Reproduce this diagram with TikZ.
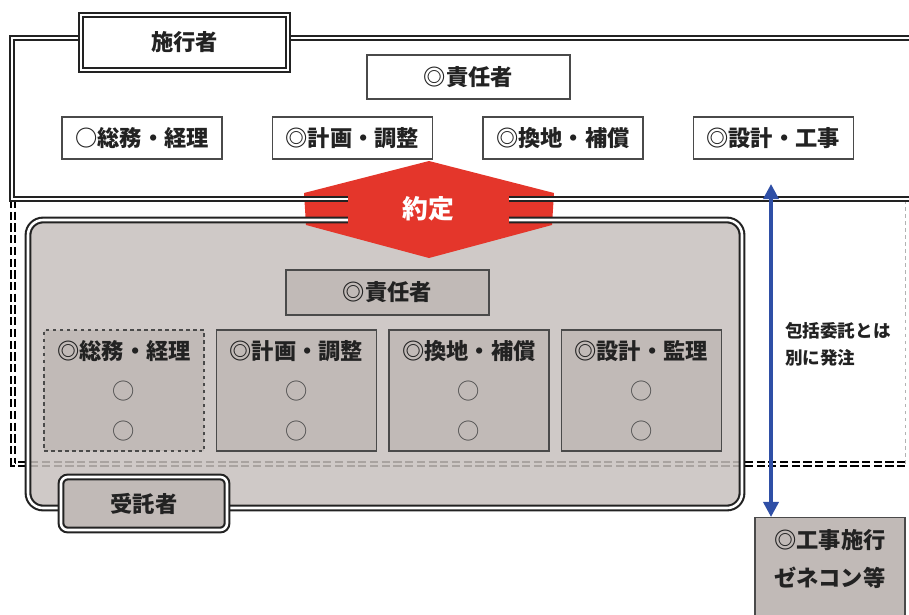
\documentclass[tikz,border=0pt]{standalone}
\usepackage{fontspec}
\setmainfont{Noto Sans CJK JP}
\usepackage{tikz}
\usetikzlibrary{arrows.meta, positioning}
\definecolor{frameline}{HTML}{222222}
\definecolor{boxline}{HTML}{4A4A4A}
\definecolor{grayfill}{HTML}{C7C0BD}
\definecolor{boxfill}{HTML}{C1BAB7}
\definecolor{yakured}{HTML}{E4362B}
\definecolor{arrowblue}{HTML}{2F4FA6}
\newcommand{\marucirc}{{\mdseries\color{boxline}○}}
\tikzstyle{dbl} = [draw=frameline, line width=1.8pt, double=white, double distance=2.2pt]
\tikzstyle{dbldash} = [draw=black, line width=1.7pt, double=white, double distance=1.7pt, dash pattern=on 7pt off 3pt]
\tikzstyle{tagbox} = [rectangle, dbl, fill=white, minimum width=6.21cm, minimum height=1.65cm, text=frameline, font=\fontsize{19}{22}\selectfont\bfseries]
\tikzstyle{whitebox} = [rectangle, draw=boxline, line width=1.2pt, fill=white, minimum width=4.8cm, minimum height=1.26cm, text=frameline, font=\fontsize{19}{22}\selectfont\bfseries]
\tikzstyle{graybox} = [rectangle, draw=boxline, line width=1.2pt, fill=boxfill, minimum width=4.8cm, minimum height=3.63cm, align=center, text=frameline, font=\fontsize{19}{34}\selectfont\bfseries]
\tikzstyle{bluearrow} = [arrowblue, line width=3pt, {Triangle[width=13pt,length=13pt]}-{Triangle[width=13pt,length=13pt]}]

\begin{document}
\begin{tikzpicture}[x=0.03cm, y=-0.03cm]

\clip (0,0) rectangle (909,614);
\draw[dbldash] (13,200) -- (13,464) -- (915,464);
\draw[gray!60, line width=0.6pt, dashed] (905,200) -- (905,464);
\fill[grayfill, fill opacity=0.85, rounded corners=0.45cm] (28,220) rectangle (742,508);
\fill[yakured] (429,161) -- (554,193) -- (552,225) -- (429,258) -- (306,225) -- (304,193) -- cycle;
\draw[dbl] (12,38) rectangle (920,199);
\draw[dbl, rounded corners=0.45cm] (28,220) rectangle (742,508);

\node (yakujo) [rectangle, fill=yakured, minimum width=4.83cm, minimum height=1.02cm, text=white, font=\fontsize{22}{24}\selectfont\bfseries] at (428,209) {約定};

\node (sekousha) [tagbox] at (184.5,42.5) {施行者};
\node (sekinin) [whitebox, minimum width=6.09cm, minimum height=1.32cm] at (468.5,77) {◎責任者};
\node (soumu) [whitebox] at (142,138) {○総務・経理};
\node (keikaku) [whitebox, right=1.47cm of soumu] {◎計画・調整};
\node (kanchi) [whitebox, right=1.47cm of keikaku] {◎換地・補償};
\node (sekkei) [whitebox, right=1.47cm of kanchi] {◎設計・工事};

\node (jsekinin) [graybox, minimum width=6.09cm, minimum height=1.35cm] at (387.5,292.5) {◎責任者};
\node (jsoumu) [graybox, dashed] at (124,390.5) {◎総務・経理\\\marucirc\\\marucirc};
\node (jkeikaku) [graybox, right=0.33cm of jsoumu] {◎計画・調整\\\marucirc\\\marucirc};
\node (jkanchi) [graybox, right=0.33cm of jkeikaku] {◎換地・補償\\\marucirc\\\marucirc};
\node (jsekkei) [graybox, right=0.33cm of jkanchi] {◎設計・監理\\\marucirc\\\marucirc};
\node (jutakusha) [tagbox, fill=boxfill, rounded corners=0.2cm, minimum width=4.98cm, minimum height=1.59cm] at (144,503.5) {受託者};

\node (kouji) [graybox, minimum width=4.5cm, minimum height=3.6cm, anchor=north] at (830,517) {};
\node (koujitext) [align=center, text=frameline, font=\fontsize{19}{32}\selectfont\bfseries] at (830,559) {◎工事施行\\ゼネコン等};
\node (betsu) [anchor=west, align=left, text=frameline, font=\fontsize{15}{23}\selectfont\bfseries] at (781,344) {包括委託とは\\別に発注};

\coordinate (upper) at (771,184);
\draw[bluearrow] (upper) -- (upper |- kouji.north);

\end{tikzpicture}
\end{document}
